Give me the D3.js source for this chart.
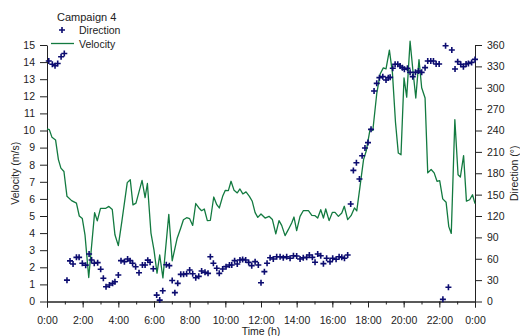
<!DOCTYPE html>
<html>
<head>
<meta charset="utf-8">
<script src="https://cdn.jsdelivr.net/npm/d3@7"></script>
<style>
  html, body { margin: 0; padding: 0; background: #fff; }
  svg { display: block; font-family: "Liberation Sans", Arial, sans-serif; }
  .axis path, .axis line { stroke: #222; stroke-width: 1; }
  .axis text { fill: #222; font-size: 10.5px; }
</style>
</head>
<body>
<svg id="chart" width="520" height="336"></svg>
<script>
// Wind record, Campaign 4 (time in decimal hours)
const velTime = [0.0,0.13,0.28,0.48,0.64,0.78,0.95,1.12,1.38,1.65,1.81,1.98,2.13,2.34,2.67,2.82,3.0,3.3,3.47,3.66,3.81,4.0,4.2,4.5,4.67,4.82,4.99,5.33,5.5,5.63,5.83,6.0,6.17,6.32,6.5,6.83,7.02,7.3,7.5,7.65,7.83,8.0,8.17,8.34,8.52,8.67,8.82,8.99,9.16,9.35,9.52,9.66,9.85,10.0,10.17,10.32,10.49,10.67,10.82,10.98,11.16,11.35,11.51,11.67,11.82,12.0,12.23,12.45,12.64,12.83,13.01,13.16,13.35,13.53,13.72,13.85,14.0,14.19,14.37,14.66,14.85,15.03,15.18,15.35,15.5,15.63,15.82,16.0,16.15,16.34,16.53,16.67,16.86,17.05,17.24,17.37,17.55,17.75,17.9,18.12,18.27,18.49,18.68,18.86,19.01,19.2,19.37,19.54,19.7,19.85,20.02,20.17,20.36,20.51,20.68,20.86,21.01,21.2,21.35,21.54,21.71,21.87,22.02,22.19,22.38,22.53,22.67,22.87,23.05,23.18,23.36,23.52,23.7,23.86,24.0];
const velocity = [10.1,10.05,9.6,9.45,8.3,7.8,7.6,6.15,5.9,5.75,5.0,4.85,3.9,1.4,5.2,4.72,5.45,5.45,5.56,5.38,3.9,3.27,4.7,6.95,7.12,5.65,5.75,7.08,6.08,6.9,4.0,3.0,1.66,2.72,1.38,5.1,2.38,3.7,4.3,4.78,4.9,4.84,4.45,5.73,5.47,5.31,5.41,4.73,4.75,6.11,5.66,5.47,6.15,6.5,6.48,7.03,6.5,6.35,6.58,6.29,6.41,6.15,5.86,5.2,4.92,5.12,4.88,4.98,4.79,3.95,4.73,4.45,3.85,4.2,4.59,4.94,4.14,4.98,5.31,5.31,5.04,5.02,4.88,5.37,4.88,5.41,4.73,5.21,5.21,4.98,5.18,5.57,4.79,5.02,5.47,5.3,6.7,8.3,8.8,10.1,10.0,12.15,13.3,13.66,13.6,14.7,13.37,10.5,8.68,8.58,13.08,11.95,15.22,13.6,11.9,14.15,12.5,11.9,7.52,7.72,7.52,7.03,7.07,6.0,5.8,4.38,3.98,10.63,7.41,7.28,8.53,5.87,5.95,6.24,5.72];

const dirTime = [0.1,0.3,0.45,0.6,0.79,0.97,1.12,1.29,1.46,1.65,1.8,1.98,2.17,2.36,2.5,2.65,2.84,3.01,3.16,3.31,3.5,3.68,3.81,4.0,4.15,4.34,4.52,4.66,4.8,4.97,5.16,5.35,5.5,5.65,5.78,5.96,6.15,6.32,6.49,6.69,6.86,7.02,7.17,7.33,7.5,7.66,7.83,8.0,8.17,8.34,8.51,8.67,8.86,9.03,9.16,9.33,9.52,9.66,9.85,10.04,10.23,10.36,10.52,10.67,10.82,10.97,11.14,11.31,11.48,11.67,11.85,12.0,12.19,12.34,12.51,12.69,12.88,13.07,13.25,13.44,13.63,13.82,14.0,14.19,14.37,14.56,14.71,14.88,15.03,15.18,15.35,15.5,15.68,15.87,16.02,16.21,16.38,16.53,16.68,16.86,17.03,17.18,17.35,17.52,17.67,17.83,18.0,18.17,18.34,18.49,18.64,18.83,19.01,19.14,19.24,19.39,19.52,19.67,19.8,19.93,20.04,20.21,20.36,20.51,20.66,20.83,21.01,21.2,21.35,21.52,21.67,21.82,21.99,22.2,22.35,22.51,22.7,22.88,23.03,23.2,23.35,23.5,23.63,23.81,24.0];
const direction = [337.5,333,331,334,343.6,348,30,57,52.6,62,62,53.6,51,66.7,58.2,53.6,54.5,45.2,32.6,20.8,23.2,25.5,27.8,37.2,57.3,55.9,59.6,57.3,53.6,48.8,40.4,51.2,51.2,58,55,46,9,2,15,51.5,50.3,29.5,12.4,25.5,38.1,38.1,39,44.2,39,33.4,35.3,42.8,40.9,39.5,62.9,53.6,46.6,39.5,45.6,48.9,51.2,51.2,57.3,52.6,58.2,59.1,58.2,54.9,50.3,55.9,51.2,26.4,41.9,53.6,61.5,59.6,62.9,62.9,61.5,62.9,60.6,64.3,63.8,59.6,61.5,62,65.3,62,55,66.7,64.3,53.1,60.6,55.9,60.6,59.2,62.9,62,60.6,65.3,136.8,184,194.8,172,204.6,215.5,223,241.6,295.4,306.2,314.2,315.6,310.9,314.2,314.6,327.3,332.9,332.9,330.5,328.2,325.9,327.3,321.6,315.6,321.6,323.5,321.6,328.2,337.5,337.5,337.5,333.3,333.3,3,359,20,353,326.3,336.6,332.9,329.6,333.3,334.2,335.6,339.8];

const timeTicks = [0,2,4,6,8,10,12,14,16,18,20,22,24];
const velTicks = d3.range(0, 16, 1);
const dirTicks = d3.range(0, 361, 30);

const svg = d3.select("#chart");
const plotLeft = 47, plotRight = 475, plotTop = 45, plotBottom = 301.5;
const velColor = "#137a40", dirColor = "#0c0c70";

const x = d3.scaleLinear().domain([0, 24]).range([plotLeft, plotRight]);
const yVel = d3.scaleLinear().domain([0, 15]).range([plotBottom, plotTop]);
const yDir = d3.scaleLinear().domain([0, 360]).range([plotBottom, plotTop]);

// bottom axis: labelled every 2 h, minor ticks hourly
svg.append("g").attr("class", "axis")
  .attr("transform", `translate(0,${plotBottom})`)
  .call(d3.axisBottom(x).tickValues(d3.range(0, 25, 1)).tickSize(3).tickFormat(""));
svg.append("g").attr("class", "axis")
  .attr("transform", `translate(0,${plotBottom})`)
  .call(d3.axisBottom(x).tickValues(timeTicks).tickSize(6).tickPadding(9)
    .tickFormat(h => (h % 24) + ":00"));

svg.append("g").attr("class", "axis")
  .attr("transform", `translate(${plotLeft},0)`)
  .call(d3.axisLeft(yVel).tickValues(velTicks).tickSize(7).tickPadding(5).tickSizeOuter(0));

svg.append("g").attr("class", "axis")
  .attr("transform", `translate(${plotRight},0)`)
  .call(d3.axisRight(yDir).tickValues(dirTicks).tickSize(7).tickPadding(5).tickSizeOuter(0));

// axis titles
svg.append("text").attr("x", (plotLeft + plotRight) / 2).attr("y", 334.5)
  .attr("text-anchor", "middle").attr("font-size", 10.5).attr("fill", "#222").text("Time (h)");
svg.append("text").attr("transform", `translate(19,${(plotTop + plotBottom) / 2}) rotate(-90)`)
  .attr("text-anchor", "middle").attr("font-size", 10.5).attr("fill", "#222").text("Velocity (m/s)");
svg.append("text").attr("transform", `translate(518,${(plotTop + plotBottom) / 2}) rotate(-90)`)
  .attr("text-anchor", "middle").attr("font-size", 10.5).attr("fill", "#222").text("Direction (°)");

// velocity line
const velData = velTime.map((t, i) => [t, velocity[i]]);
svg.append("path").datum(velData)
  .attr("fill", "none").attr("stroke", velColor).attr("stroke-width", 1.3)
  .attr("stroke-linejoin", "round")
  .attr("d", d3.line().x(d => x(d[0])).y(d => yVel(d[1])));

// direction markers
const cross = "M-3,0H3M0,-3V3";
svg.append("g").selectAll("path")
  .data(dirTime.map((t, i) => [t, direction[i]]))
  .join("path")
  .attr("transform", d => `translate(${x(d[0])},${yDir(d[1])})`)
  .attr("d", cross).attr("stroke", dirColor).attr("stroke-width", 1.6).attr("fill", "none");

// legend
const lg = svg.append("g");
lg.append("text").attr("x", 57).attr("y", 20.5).attr("font-size", 11).attr("fill", "#222").text("Campaign 4");
lg.append("path").attr("transform", "translate(62,30)").attr("d", cross)
  .attr("stroke", dirColor).attr("stroke-width", 1.6);
lg.append("text").attr("x", 79).attr("y", 34).attr("font-size", 10.5).attr("fill", "#222").text("Direction");
lg.append("line").attr("x1", 51).attr("x2", 74).attr("y1", 43.5).attr("y2", 43.5)
  .attr("stroke", velColor).attr("stroke-width", 1.3);
lg.append("text").attr("x", 79).attr("y", 47.5).attr("font-size", 10.5).attr("fill", "#222").text("Velocity");
</script>
</body>
</html>
